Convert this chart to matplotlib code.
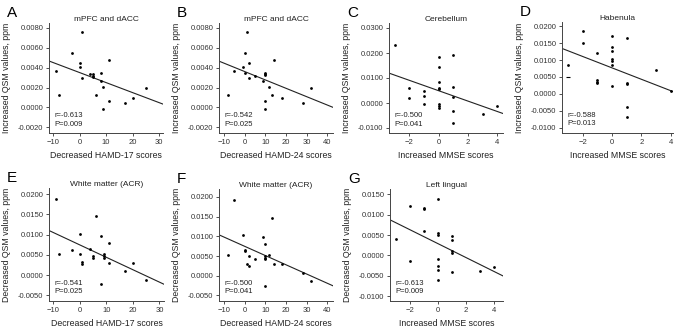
import numpy as np
import matplotlib
matplotlib.use("Agg")
import matplotlib.pyplot as plt

plt.rcParams['font.family'] = ['Liberation Sans', 'DejaVu Sans']

# panel A: mPFC and dACC vs HAMD-17
a_x = [1, -3, 0, 0, 1, -9, -8, 4, 5, 5, 5, 8, 8, 9, 6, 11, 11, 9, 17, 20, 25]
a_y = [0.0076, 0.0055, 0.0045, 0.0041, 0.0030, 0.0037, 0.0013, 0.0034, 0.0034, 0.0032, 0.0031,
       0.0035, 0.0027, 0.0021, 0.0013, 0.0048, 0.0007, -0.0002, 0.0004, 0.0010, 0.0020]

# panel B: mPFC and dACC vs HAMD-24
b_x = [1, 0, 2, -1, 0, -5, -8, 2, 5, 9, 10, 10, 10, 14, 12, 13, 10, 10, 18, 28, 32]
b_y = [0.0076, 0.0055, 0.0045, 0.0041, 0.0035, 0.0037, 0.0013, 0.0030, 0.0032, 0.0027, 0.0035,
       0.0034, 0.0033, 0.0048, 0.0021, 0.0013, 0.0007, -0.0002, 0.0010, 0.0004, 0.0020]

# panel C: cerebellum vs MMSE
c_x = [-3, -2, -2, -1, -1, -1, 0, 0, 0, 0, 0, 0, 0, 0, 1, 1, 1, 1, 1, 3, 4]
c_y = [0.0230, 0.0060, 0.0020, 0.0050, 0.0029, -0.0005, 0.0184, 0.0145, 0.0083, 0.0060, 0.0057,
       -0.0005, -0.0013, -0.0018, 0.0193, 0.0066, 0.0026, -0.0033, -0.0081, -0.0045, -0.0013]

# panel D: habenula vs MMSE
d_x = [-3, -2, -2, -1, -1, -1, -1, 0, 0, 0, 0, 0, 0, 0, 1, 1, 1, 1, 1, 3, 4]
d_y = [0.0085, 0.0185, 0.0152, 0.0121, 0.0040, 0.0035, 0.0031, 0.0172, 0.0139, 0.0127, 0.0104,
       0.0097, 0.0087, 0.0023, 0.0167, 0.0033, 0.0030, -0.0040, -0.0068, 0.0072, 0.0009]
# the stray dash mark in panel D
d_dash_x = [-3]
d_dash_y = [0.0050]

# panel E: white matter vs HAMD-17
e_x = [-9, -8, -3, 0, 0, 1, 1, 4, 5, 5, 6, 8, 9, 9, 9, 11, 11, 8, 17, 20, 25]
e_y = [0.0188, 0.0052, 0.0063, 0.0102, 0.0051, 0.0032, 0.0027, 0.0065, 0.0046, 0.0042, 0.0146,
       0.0097, 0.0052, 0.0047, 0.0043, 0.0080, 0.0030, -0.0023, 0.0010, 0.0030, -0.0011]

# panel F: white matter vs HAMD-24
f_x = [-5, -8, -1, 0, 0, 1, 2, 2, 5, 9, 10, 10, 10, 10, 12, 13, 14, 18, 10, 28, 32]
f_y = [0.0191, 0.0052, 0.0103, 0.0066, 0.0063, 0.0031, 0.0050, 0.0024, 0.0042, 0.0099, 0.0080,
       0.0049, 0.0046, 0.0043, 0.0052, 0.0147, 0.0029, 0.0029, -0.0026, 0.0008, -0.0013]

# panel G: left lingual vs MMSE
g_x = [-3, -2, -2, -1, -1, -1, 0, 0, 0, 0, 0, 0, 0, 1, 1, 1, 1, 1, 3, 4]
g_y = [0.0040, 0.0121, -0.0015, 0.0117, 0.0114, 0.0059, 0.0139, 0.0054, 0.0051, -0.0009, -0.0025,
       -0.0035, -0.0061, 0.0048, 0.0037, 0.0010, 0.0006, -0.0042, -0.0039, -0.0029]

titles = ['mPFC and dACC', 'mPFC and dACC', 'Cerebellum', 'Habenula',
          'White matter (ACR)', 'White matter (ACR)', 'Left lingual']
letters = ['A', 'B', 'C', 'D', 'E', 'F', 'G']
xlabels = ['Decreased HAMD-17 scores', 'Decreased HAMD-24 scores', 'Increased MMSE scores',
           'Increased MMSE scores', 'Decreased HAMD-17 scores', 'Decreased HAMD-24 scores',
           'Increased MMSE scores']
ylabels = ['Increased QSM values, ppm'] * 4 + ['Decreased QSM values, ppm'] * 3
stats = ['r=-0.613\nP=0.009', 'r=-0.542\nP=0.025', 'r=-0.500\nP=0.041', 'r=-0.588\nP=0.013',
         'r=-0.541\nP=0.025', 'r=-0.500\nP=0.041', 'r=-0.613\nP=0.009']
xs = [a_x, b_x, c_x, d_x, e_x, f_x, g_x]
ys = [a_y, b_y, c_y, d_y, e_y, f_y, g_y]

W, H = 687, 331
# axes boxes in pixels: left, right, top, bottom
boxes = [(49, 163, 23, 133), (219, 333, 23, 133), (389, 503, 23, 133), (562, 673, 22, 133),
         (49, 164, 188, 301), (219, 333, 189, 301), (390, 503, 189, 301)]
xlims = [(-11.6, 31.5), (-12.4, 42.7), (-3.39, 4.39), (-3.42, 4.17),
         (-11.6, 31.7), (-12.4, 42.7), (-3.43, 4.64)]
ylims = [(-0.00257, 0.0085), (-0.00257, 0.0085), (-0.012, 0.032), (-0.0116, 0.0213),
         (-0.0064, 0.0215), (-0.0064, 0.0220), (-0.0112, 0.0163)]
xticks = [[-10, 0, 10, 20, 30], [-10, 0, 10, 20, 30, 40], [-2, 0, 2, 4], [-2, 0, 2, 4],
          [-10, 0, 10, 20, 30], [-10, 0, 10, 20, 30, 40], [-2, 0, 2, 4]]
yticks = [np.arange(-0.002, 0.0081, 0.002), np.arange(-0.002, 0.0081, 0.002),
          np.arange(-0.01, 0.0301, 0.01), np.arange(-0.01, 0.0201, 0.005),
          np.arange(-0.005, 0.0201, 0.005), np.arange(-0.005, 0.0201, 0.005),
          np.arange(-0.01, 0.0151, 0.005)]

fig = plt.figure(figsize=(W / 100, H / 100), dpi=100)

for i in range(7):
    l, r, t, b = boxes[i]
    ax = fig.add_axes([l / W, 1 - b / H, (r - l) / W, (b - t) / H])
    ax.scatter(xs[i], ys[i], s=4, color='black', linewidths=0, zorder=3)
    if i == 3:
        ax.scatter(d_dash_x, d_dash_y, s=8, marker='_', color='black', linewidths=0.8)
    slope, inter = np.polyfit(xs[i], ys[i], 1)
    lx = np.array(xlims[i])
    ax.plot(lx, slope * lx + inter, color='#222222', lw=0.8)
    ax.set_xlim(xlims[i])
    ax.set_ylim(ylims[i])
    ax.set_xticks(xticks[i])
    ax.set_yticks(yticks[i])
    ax.yaxis.set_major_formatter(matplotlib.ticker.FormatStrFormatter('%.4f'))
    ax.tick_params(labelsize=5.5, length=2, width=0.6, pad=2, colors='#333333')
    for s in ['top', 'right']:
        ax.spines[s].set_visible(False)
    for s in ['left', 'bottom']:
        ax.spines[s].set_linewidth(0.7)
        ax.spines[s].set_color('#444444')
    ax.set_title(titles[i], fontsize=6, pad=1.5, color='#222222')
    ax.set_xlabel(xlabels[i], fontsize=6.3, labelpad=4, color='#222222')
    ax.set_ylabel(ylabels[i], fontsize=6.3, color='#222222')
    ax.yaxis.set_label_coords(-38 / (r - l), 0.5)
    ax.text(0.05, 0.05, stats[i], transform=ax.transAxes, fontsize=5.5,
            color='#222222', va='bottom', linespacing=1.3)
    fig.text((l - 42) / W, 1 - (t - 10) / H, letters[i], fontsize=11, va='center', ha='left')

fig.savefig('out.png', dpi=100)
